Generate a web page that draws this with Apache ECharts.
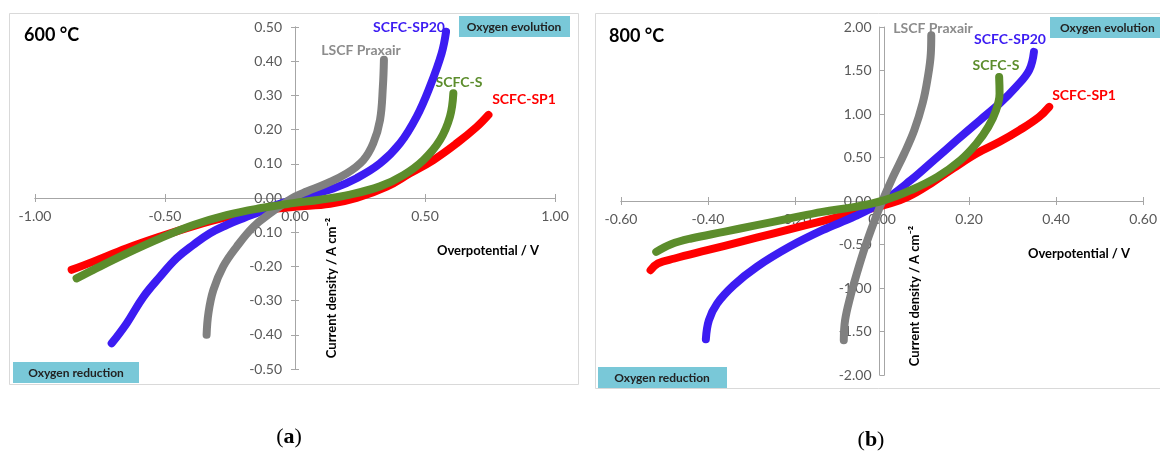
<!DOCTYPE html>
<html><head><meta charset="utf-8">
<script src="https://cdn.jsdelivr.net/npm/echarts@6/dist/echarts.min.js"></script>
<style>html,body{margin:0;padding:0;background:#fff}#c{width:1160px;height:454px}</style>
</head><body><div id="c"></div>
<script>
// ---- axis ticks ----
const xTicks600 = [-1.0, -0.5, 0.0, 0.5, 1.0];
const yTicks600 = [-0.5, -0.4, -0.3, -0.2, -0.1, 0.0, 0.1, 0.2, 0.3, 0.4, 0.5];
const xTicks800 = [-0.6, -0.4, -0.2, 0.0, 0.2, 0.4, 0.6];
const yTicks800 = [-2.0, -1.5, -1.0, -0.5, 0.0, 0.5, 1.0, 1.5, 2.0];

// ---- series names ----
const seriesNames = ['SCFC-SP1', 'SCFC-SP20', 'LSCF Praxair', 'SCFC-S'];

// ---- 600 °C : [overpotential V, current density A cm-2] ----
const sp1_600 = [[-0.859,-0.21],[-0.776,-0.186],[-0.647,-0.147],[-0.519,-0.113],[-0.391,-0.082],[-0.263,-0.056],[-0.135,-0.037],[0.0,-0.026],[0.135,-0.017],[0.237,0.0],[0.353,0.033],[0.442,0.072],[0.532,0.111],[0.622,0.16],[0.699,0.208],[0.744,0.243]];
const sp20_600 = [[-0.705,-0.425],[-0.647,-0.366],[-0.583,-0.289],[-0.519,-0.23],[-0.455,-0.176],[-0.391,-0.137],[-0.327,-0.103],[-0.263,-0.079],[-0.199,-0.059],[-0.135,-0.04],[-0.07,-0.02],[0.0,-0.004],[0.058,0.009],[0.147,0.028],[0.237,0.058],[0.327,0.101],[0.404,0.16],[0.468,0.238],[0.519,0.326],[0.564,0.423],[0.581,0.486]];
const praxair_600 = [[-0.34,-0.40],[-0.333,-0.337],[-0.314,-0.269],[-0.276,-0.20],[-0.224,-0.142],[-0.16,-0.084],[-0.096,-0.045],[-0.032,-0.011],[0.0,0.004],[0.045,0.019],[0.122,0.043],[0.199,0.072],[0.263,0.111],[0.301,0.16],[0.327,0.228],[0.338,0.326],[0.342,0.404]];
const s_600 = [[-0.84,-0.235],[-0.776,-0.21],[-0.647,-0.162],[-0.519,-0.118],[-0.391,-0.079],[-0.263,-0.05],[-0.135,-0.03],[-0.007,-0.015],[0.096,-0.005],[0.212,0.01],[0.327,0.034],[0.417,0.067],[0.494,0.111],[0.558,0.17],[0.596,0.238],[0.609,0.306]];

// ---- 800 °C ----
const sp1_800 = [[-0.532,-0.795],[-0.515,-0.718],[-0.477,-0.661],[-0.402,-0.566],[-0.326,-0.47],[-0.251,-0.374],[-0.175,-0.278],[-0.1,-0.183],[-0.024,-0.086],[0.014,-0.035],[0.059,0.047],[0.112,0.201],[0.165,0.38],[0.217,0.546],[0.27,0.68],[0.316,0.814],[0.361,0.967],[0.384,1.082]];
const sp20_800 = [[-0.405,-1.59],[-0.398,-1.37],[-0.379,-1.178],[-0.341,-0.968],[-0.288,-0.757],[-0.213,-0.527],[-0.137,-0.336],[-0.062,-0.175],[0.0,-0.01],[0.066,0.239],[0.119,0.469],[0.172,0.70],[0.225,0.929],[0.27,1.12],[0.308,1.312],[0.338,1.503],[0.349,1.714]];
const praxair_800 = [[-0.088,-1.60],[-0.085,-1.37],[-0.073,-1.10],[-0.058,-0.833],[-0.039,-0.527],[-0.02,-0.259],[-0.002,-0.03],[0.025,0.277],[0.051,0.546],[0.074,0.814],[0.093,1.12],[0.104,1.389],[0.112,1.695],[0.113,1.906]];
const s_800 = [[-0.519,-0.585],[-0.485,-0.497],[-0.439,-0.431],[-0.364,-0.355],[-0.288,-0.278],[-0.213,-0.201],[-0.137,-0.125],[-0.062,-0.068],[0.006,0.01],[0.066,0.124],[0.127,0.277],[0.18,0.469],[0.217,0.661],[0.244,0.852],[0.262,1.044],[0.27,1.236],[0.269,1.426]];

const colors = ['#ff0000', '#3c1cf2', '#808080', '#5c8d2c'];
const FONT = 'Lato, "Open Sans", sans-serif';
const axisGray = '#a6a6a6';
const labelGray = '#595959';

const grids = [
  {left:35, top:27, width:520, height:342},
  {left:621, top:27, width:527, height:348}
];

function fmt(v){ return (Math.abs(v) < 1e-9 ? 0 : v).toFixed(2); }
function ext(t){ return [t[0], t[t.length-1], t[1]-t[0]]; }

// axes are shifted from the grid edge to the other axis' zero (crossing axes)
function xAxes(g, ticks, yTicks){
  const [min, max, interval] = ext(ticks);
  const [ymin, ymax] = ext(yTicks);
  const shift = grids[g].height * (0 - ymin) / (ymax - ymin);      // from bottom to zero
  const base = {gridIndex: g, type:'value', min, max, interval, splitLine:{show:false},
    axisLine:{show:true, onZero:false, lineStyle:{color:axisGray, width:1}},
    axisTick:{show:true, length:4, lineStyle:{color:axisGray}}};
  return [
    Object.assign({}, base, {position:'bottom', offset:-shift, axisLabel:{show:true, margin:11, color:labelGray, fontSize:14, fontFamily:FONT, formatter:fmt}}),
    Object.assign({}, base, {position:'top', offset:-(grids[g].height - shift), axisLabel:{show:false}})
  ];
}
function yAxes(g, ticks, xTicks){
  const [min, max, interval] = ext(ticks);
  const [xmin, xmax] = ext(xTicks);
  const shift = grids[g].width * (0 - xmin) / (xmax - xmin);        // from left to zero
  const base = {gridIndex: g, type:'value', min, max, interval, splitLine:{show:false},
    axisLine:{show:true, onZero:false, lineStyle:{color:axisGray, width:1}},
    axisTick:{show:true, length:4, lineStyle:{color:axisGray}}};
  return [
    Object.assign({}, base, {position:'left', offset:-shift, axisLabel:{show:true, margin:13, color:labelGray, fontSize:14, fontFamily:FONT, formatter:fmt}}),
    Object.assign({}, base, {position:'right', offset:-(grids[g].width - shift), axisLabel:{show:false}})
  ];
}

function mkSeries(name, data, idx, color){
  return {name, type:'line', xAxisIndex: idx, yAxisIndex: idx, data, smooth:0.4, symbol:'none',
    lineStyle:{color, width:8, cap:'round', join:'round'}, silent:true};
}

const panel600 = [sp1_600, sp20_600, praxair_600, s_600];
const panel800 = [sp1_800, sp20_800, praxair_800, s_800];
const series = [];
panel600.forEach((d,i)=>series.push(mkSeries(seriesNames[i], d, 0, colors[i])));
panel800.forEach((d,i)=>series.push(mkSeries(seriesNames[i], d, 2, colors[i])));

function txt(text, x, y, opts){
  return {type:'text', x, y, silent:true, style:Object.assign({text, fill:'#000', textAlign:'center', textVerticalAlign:'middle',
    fontFamily:FONT, fontSize:13, fontWeight:'bold'}, opts||{})};
}
function txtR(text, x, y, style){
  return {type:'text', x, y, rotation:Math.PI/2, silent:true, style:Object.assign({text, fill:'#000', textAlign:'center', textVerticalAlign:'middle', fontFamily:FONT, fontSize:13, fontWeight:'bold'}, style||{})};
}
const boxFill = '#79c8d8';
const graphic = [
  {type:'rect', shape:{x:9.5, y:13.5, width:569, height:371}, style:{fill:'none', stroke:'#d9d9d9', lineWidth:1}, z:-1, silent:true},
  {type:'rect', shape:{x:595.5, y:13.5, width:580, height:375}, style:{fill:'none', stroke:'#d9d9d9', lineWidth:1}, z:-1, silent:true},
  {type:'rect', shape:{x:459, y:16, width:111, height:21}, style:{fill:boxFill}, silent:true},
  {type:'rect', shape:{x:13, y:362, width:126, height:21}, style:{fill:boxFill}, silent:true},
  {type:'rect', shape:{x:1050, y:17, width:115, height:21}, style:{fill:boxFill}, silent:true},
  {type:'rect', shape:{x:598, y:367, width:129, height:21}, style:{fill:boxFill}, silent:true},
  txt('Oxygen evolution', 514, 27, {fontSize:12, fill:'#222'}),
  txt('Oxygen reduction', 76, 373, {fontSize:12, fill:'#222'}),
  txt('Oxygen evolution', 1060, 28, {fontSize:12, fill:'#222', textAlign:'left'}),
  txt('Oxygen reduction', 662, 378, {fontSize:12, fill:'#222'}),
  txt('600 °C', 24, 35, {fontSize:18, textAlign:'left'}),
  txt('800 °C', 609, 36, {fontSize:18, textAlign:'left'}),
  txt('Overpotential / V', 488, 251, {fontSize:13}),
  txt('Overpotential / V', 1079, 254, {fontSize:13}),
  txtR('Current density / A cm⁻²', 332, 288, {fontSize:13}),
  txtR('Current density / A cm⁻²', 915, 296, {fontSize:13}),
  // series labels 600
  txt(seriesNames[1], 409, 27, {fontSize:14, fill:colors[1]}),
  txt(seriesNames[2], 361, 50, {fontSize:14, fill:'#8c8c8c'}),
  txt(seriesNames[3], 459, 82, {fontSize:14, fill:colors[3]}),
  txt(seriesNames[0], 524, 99, {fontSize:14, fill:colors[0]}),
  // series labels 800
  txt(seriesNames[2], 933, 28, {fontSize:14, fill:'#8c8c8c'}),
  txt(seriesNames[1], 1010, 39, {fontSize:14, fill:colors[1]}),
  txt(seriesNames[3], 996, 65, {fontSize:14, fill:colors[3]}),
  txt(seriesNames[0], 1084, 95, {fontSize:14, fill:colors[0]}),
  // captions
  {type:'text', x:289, y:437, silent:true, style:{text:'({b|a})', fill:'#000', textAlign:'center', textVerticalAlign:'middle', fontFamily:'"Liberation Serif", serif', fontSize:22,
    rich:{b:{fontWeight:'bold', fontFamily:'"Liberation Serif", serif', fontSize:22}}}},
  {type:'text', x:871, y:440, silent:true, style:{text:'({b|b})', fill:'#000', textAlign:'center', textVerticalAlign:'middle', fontFamily:'"Liberation Serif", serif', fontSize:22,
    rich:{b:{fontWeight:'bold', fontFamily:'"Liberation Serif", serif', fontSize:22}}}}
];

const chart = echarts.init(document.getElementById('c'), null, {renderer:'canvas'});
chart.setOption({
  animation:false,
  backgroundColor:'#ffffff',
  grid: grids.map(g => Object.assign({containLabel:false}, g)),
  xAxis:[].concat(xAxes(0, xTicks600, yTicks600), xAxes(1, xTicks800, yTicks800)),
  yAxis:[].concat(yAxes(0, yTicks600, xTicks600), yAxes(1, yTicks800, xTicks800)),
  series,
  graphic
});
</script>
</body></html>
